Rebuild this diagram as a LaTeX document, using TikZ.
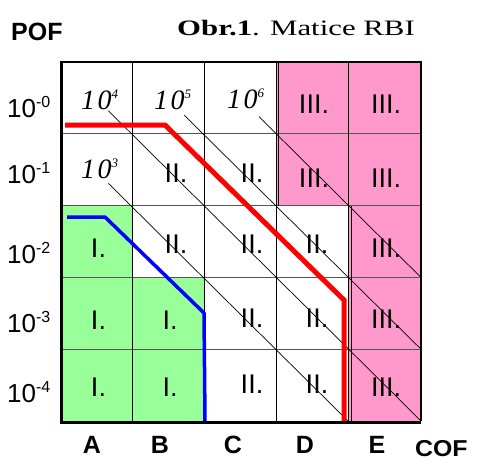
\documentclass[tikz,border=0pt]{standalone}
\usepackage{fontspec}
\setmainfont{Liberation Serif}
\newfontfamily\arial{Liberation Sans}
\definecolor{pinkc}{HTML}{FF99CC}
\definecolor{greenc}{HTML}{99FF99}
\definecolor{gridgray}{HTML}{555555}
\newcommand\pw[1]{{\fontsize{28}{28}\selectfont\itshape 1\kern2.5pt0}\raisebox{11pt}{\fontsize{13}{13}\selectfont\itshape #1}}
\newcommand\ylab[1]{10\raisebox{10pt}{\fontsize{16}{16}\selectfont -#1}}
\tikzset{
  cl/.style={font=\arial\fontsize{27}{27}\selectfont, anchor=base, inner sep=0pt},
  pl/.style={anchor=base west, inner sep=0pt},
  yl/.style={font=\arial\fontsize{26}{26}\selectfont, anchor=base west, inner sep=0pt},
  xl/.style={font=\arial\bfseries\fontsize{25}{25}\selectfont, anchor=base, inner sep=0pt},
  diag/.style={black, line width=0.7pt},
  hgrid/.style={gridgray, line width=1.2pt},
  vgrid/.style={black, line width=0.8pt},
}
\begin{document}
\begin{tikzpicture}[x=1pt,y=-1pt]
\useasboundingbox (0,0) rectangle (477,461);
% fills
\fill[greenc] (60,205.6) rectangle (132.2,421);
\fill[greenc] (132.2,277.4) rectangle (204.4,421);
\fill[pinkc] (276.6,62) rectangle (421,205.6);
\fill[pinkc] (348.8,205.6) rectangle (421,421);
% grid lines
\foreach \yy in {133.8,205.6,277.4,349.2} \draw[hgrid] (60,\yy) -- (421,\yy);
\foreach \xx in {132.2,204.4,276.6,348.8} \draw[vgrid] (\xx,62) -- (\xx,421);
\draw[vgrid, line width=0.5pt] (278.6,62) -- (278.6,205.6);
\draw[vgrid, line width=0.5pt] (350.8,205.6) -- (350.8,421);
% border
\draw[black, line width=2pt] (60,62) -- (421,62);
\draw[black, line width=2.5pt] (421,61) -- (421,421);
\draw[black, line width=3.5pt] (61.5,61) -- (61.5,422.5) -- (421,422.5);
% diagonals
\draw[diag] (108.3,110.7) -- (421,421);
\draw[diag] (108.3,183.3) -- (350,423);
\draw[diag] (184,115) -- (421,349.2);
\draw[diag] (259,116.7) -- (421,277.4);
% red and blue lines
\draw[red, line width=5pt] (65,125) -- (165,125) -- (344,300) -- (344,421);
\draw[blue, line width=3.5pt] (67,217) -- (105,217) -- (204,313) -- (205,421);
% cell labels
\node[pl] (p4) at (81,109) {\pw{4}};
\node[pl] (p5) at (154,109) {\pw{5}};
\node[pl] (p6) at (227,108) {\pw{6}};
\node[pl] (p3) at (81,178) {\pw{3}};
\node[cl] (d1) at (314,113) {III.};
\node[cl] (e1) at (386,113) {III.};
\node[cl] (b2) at (176,182) {II.};
\node[cl] (c2) at (252,182) {II.};
\node[cl] (d2) at (314,187) {III.};
\node[cl] (e2) at (386,187) {III.};
\node[cl] (a3) at (98.5,257) {I.};
\node[cl] (b3) at (176,253) {II.};
\node[cl] (c3) at (252,253) {II.};
\node[cl] (d3) at (317,253) {II.};
\node[cl] (e3) at (386,257) {III.};
\node[cl] (a4) at (98.5,329) {I.};
\node[cl] (b4) at (170,329) {I.};
\node[cl] (c4) at (252,327) {II.};
\node[cl] (d4) at (317,327) {II.};
\node[cl] (e4) at (386,328) {III.};
\node[cl] (a5) at (98.5,396) {I.};
\node[cl] (b5) at (170,396) {I.};
\node[cl] (c5) at (252,393) {II.};
\node[cl] (d5) at (317,393) {II.};
\node[cl] (e5) at (386,396) {III.};
% y labels
\node[yl] (y0) at (7,117) {\ylab{0}};
\node[yl] (y1) at (7,183) {\ylab{1}};
\node[yl] (y2) at (7,263) {\ylab{2}};
\node[yl] (y3) at (7,332) {\ylab{3}};
\node[yl] (y4) at (7,402) {\ylab{4}};
% x labels
\node[xl] (xa) at (92,453) {A};
\node[xl] (xb) at (160,453) {B};
\node[xl] (xc) at (233,453) {C};
\node[xl] (xd) at (305,453) {D};
\node[xl] (xe) at (377,453) {E};
% axis titles
\node[anchor=base west, inner sep=0pt, font=\arial\bfseries\fontsize{25}{25}\selectfont] (pof) at (11,40) {POF};
\node[anchor=base west, inner sep=0pt, font=\arial\bfseries\fontsize{23}{23}\selectfont] (cof) at (415,456) {\scalebox{1.08}[1]{COF}};
\node[anchor=base west, inner sep=0pt, font=\fontsize{22}{22}\selectfont] (title) at (177,35) {\scalebox{1.4}[1]{\textbf{Obr.1}. Matice RBI}};
\end{tikzpicture}
\end{document}
